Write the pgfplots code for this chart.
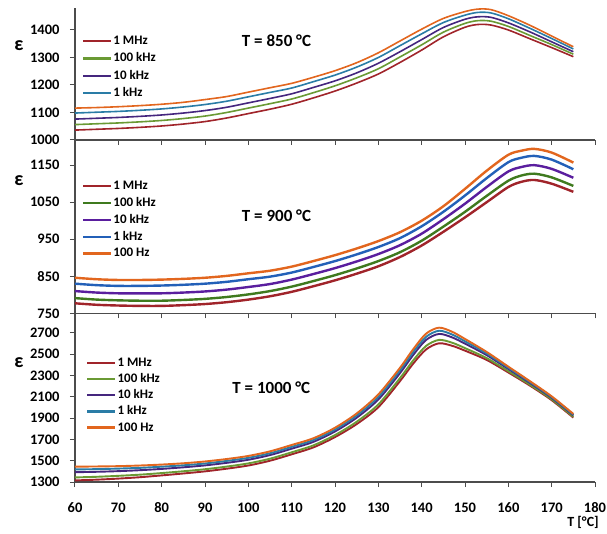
\documentclass[border=0pt]{standalone}
\usepackage{fontspec}
\setmainfont{Carlito}
\usepackage{pgfplots}
\usepackage{pgfplotstable}
\pgfplotsset{compat=1.18}

\definecolor{cR}{HTML}{A0242A}
\definecolor{cG}{HTML}{6A9A34}
\definecolor{cG2}{HTML}{3F7A1E}
\definecolor{cP}{HTML}{45267E}
\definecolor{cP2}{HTML}{5A1E9E}
\definecolor{cT}{HTML}{2A7CA6}
\definecolor{cB}{HTML}{2360B8}
\definecolor{cO}{HTML}{E2661E}

\pgfplotstableread{
T R G P C O
60 1036 1056 1076 1098 1116
65 1039 1059 1079 1101 1118
70 1042 1062 1082 1104 1121
75 1046 1066 1086 1108 1125
80 1051 1071 1091 1113 1130
85 1058 1078 1098 1120 1137
90 1067 1087 1107 1129 1147
95 1080 1100 1119 1141 1158
100 1096 1116 1135 1157 1174
105 1112 1132 1151 1173 1190
110 1130 1149 1168 1189 1206
115 1153 1172 1191 1212 1228
120 1178 1197 1215 1236 1252
125 1207 1226 1244 1265 1281
130 1240 1259 1279 1300 1317
135 1282 1302 1321 1343 1360
140 1327 1346 1365 1386 1403
145 1375 1392 1409 1427 1442
150 1410 1424 1439 1454 1467
153 1420 1434 1448 1464 1476
156 1418 1432 1446 1462 1474
160 1400 1413 1426 1441 1452
165 1368 1380 1393 1406 1417
170 1336 1347 1357 1369 1378
175 1303 1312 1321 1331 1339
}\tabA

\pgfplotstableread{
T R G P C O
60 777 791 810 830 846
65 773 787 806 826 842
70 771 785 804 824 840
75 770 784 804 824 840
80 770 784 804 825 841
85 772 786 806 827 843
90 775 789 809 830 846
95 780 794 814 835 851
100 787 801 821 842 858
105 796 810 829 849 865
110 808 822 841 860 876
115 823 837 856 875 891
120 839 853 872 891 907
125 857 871 890 909 925
130 877 891 910 929 945
135 902 915 934 953 969
140 933 946 965 985 1000
145 970 984 1004 1024 1039
150 1009 1024 1046 1068 1086
155 1050 1067 1091 1115 1135
160 1091 1108 1133 1158 1178
163 1105 1122 1145 1170 1189
166 1110 1127 1150 1175 1194
170 1100 1117 1140 1165 1184
175 1078 1094 1116 1139 1157
}\tabB

\pgfplotstableread{
T R G P C O
60 1315 1343 1392 1418 1444
65 1322 1349 1396 1421 1446
70 1332 1358 1402 1426 1449
75 1345 1369 1411 1433 1455
80 1362 1384 1423 1444 1464
85 1380 1401 1438 1457 1476
90 1400 1420 1456 1474 1493
95 1425 1445 1480 1498 1516
100 1455 1475 1509 1527 1545
105 1500 1519 1553 1570 1588
110 1560 1579 1613 1630 1648
115 1625 1644 1677 1694 1711
120 1722 1741 1775 1792 1810
125 1844 1866 1904 1924 1944
130 2003 2029 2075 2099 2123
135 2248 2276 2323 2348 2373
138 2410 2440 2491 2518 2545
141 2545 2578 2634 2663 2693
144 2603 2635 2691 2721 2750
147 2580 2609 2659 2686 2712
150 2534 2558 2600 2622 2644
155 2447 2464 2492 2507 2522
160 2329 2341 2362 2373 2384
165 2205 2214 2230 2239 2247
170 2069 2077 2091 2098 2105
175 1905 1913 1926 1933 1940
}\tabC

\pgfplotsset{
 panel/.style={
  scale only axis, width=520pt,
  xmin=60, xmax=180, xtick={60,70,...,180},
  axis x line=bottom, axis y line=left,
  axis line style={-, line width=1.2pt, color=black!70},
  tick style={line width=1pt, color=black!70},
  tick align=outside, major tick length=5pt,
  tick label style={font=\fontsize{14.5}{16}\selectfont\bfseries},
  /pgf/number format/assume math mode=true,
  /pgf/number format/1000 sep={},
  yticklabel style={xshift=-7pt},
  xticklabel style={yshift=-12pt},
  legend style={draw=none, fill=none, anchor=north west, inner sep=0pt,
    font=\fontsize{13}{15}\selectfont\bfseries,
    nodes={inner sep=1pt, text height=9pt, text depth=2pt}},
  legend cell align=left,
  legend image code/.code={\draw[##1, line width=2.2pt] (0pt,0pt) -- (28pt,0pt);},
  clip=false,
 },
 cur/.style={smooth, no markers, line width=#1},
}

\begin{document}
\begin{tikzpicture}
\path[use as bounding box] (-75pt,-534pt) rectangle (532pt,0pt);

% Panel 1
\begin{axis}[panel, at={(0pt,-140pt)}, anchor=south west, height=132pt,
  ymin=1000, ymax=1480, ytick={1000,1100,...,1400}, xticklabels={},
  legend style={at={(axis description cs:0.0135,0.799)}, row sep=4.2pt}]
\addplot[cur=1.6pt, cR] table[x=T,y=R]{\tabA};
\addplot[cur=1.6pt, cG] table[x=T,y=G]{\tabA};
\addplot[cur=1.6pt, cP] table[x=T,y=P]{\tabA};
\addplot[cur=1.6pt, cT] table[x=T,y=C]{\tabA};
\addplot[cur=1.6pt, cO, forget plot] table[x=T,y=O]{\tabA};
\legend{1 MHz, 100 kHz, 10 kHz, 1 kHz}
\node[font=\fontsize{17}{20}\selectfont\bfseries] at (axis cs:106.5,1360) {T = 850 °C};
\node[font=\fontsize{20}{22}\selectfont\bfseries] at (axis description cs:-0.108,0.712) {ε};
\end{axis}

% Panel 2
\begin{axis}[panel, at={(0pt,-313.3pt)}, anchor=south west, height=173.3pt,
  ymin=750, ymax=1218, ytick={750,850,...,1150}, xticklabels={},
  legend style={at={(axis description cs:0.0135,0.772)}, row sep=3.8pt}]
\addplot[cur=2.4pt, cR] table[x=T,y=R]{\tabB};
\addplot[cur=2.4pt, cG2] table[x=T,y=G]{\tabB};
\addplot[cur=2.4pt, cP2] table[x=T,y=P]{\tabB};
\addplot[cur=2.4pt, cB] table[x=T,y=C]{\tabB};
\addplot[cur=2.4pt, cO] table[x=T,y=O]{\tabB};
\legend{1 MHz, 100 kHz, 10 kHz, 1 kHz, 100 Hz}
\node[font=\fontsize{17}{20}\selectfont\bfseries] at (axis cs:106.5,1013) {T = 900 °C};
\node[font=\fontsize{20}{22}\selectfont\bfseries] at (axis description cs:-0.108,0.768) {ε};
\end{axis}

% Panel 3
\begin{axis}[panel, at={(0pt,-482pt)}, anchor=south west, height=168.7pt,
  ymin=1300, ymax=2885, ytick={1300,1500,...,2700},
  legend style={at={(axis description cs:0.0215,0.744)}, row sep=3.1pt}]
\addplot[cur=1.9pt, cR] table[x=T,y=R]{\tabC};
\addplot[cur=1.9pt, cG] table[x=T,y=G]{\tabC};
\addplot[cur=1.9pt, cP] table[x=T,y=P]{\tabC};
\addplot[cur=1.9pt, cT] table[x=T,y=C]{\tabC};
\addplot[cur=1.9pt, cO] table[x=T,y=O]{\tabC};
\legend{1 MHz, 100 kHz, 10 kHz, 1 kHz, 100 Hz}
\node[font=\fontsize{17}{20}\selectfont\bfseries] at (axis cs:105.3,2183) {T = 1000 °C};
\node[font=\fontsize{20}{22}\selectfont\bfseries] at (axis description cs:-0.108,0.707) {ε};
\node[font=\fontsize{14}{16}\selectfont\bfseries] at (axis description cs:0.977,-0.238) {T [°C]};
\end{axis}
\end{tikzpicture}
\end{document}
